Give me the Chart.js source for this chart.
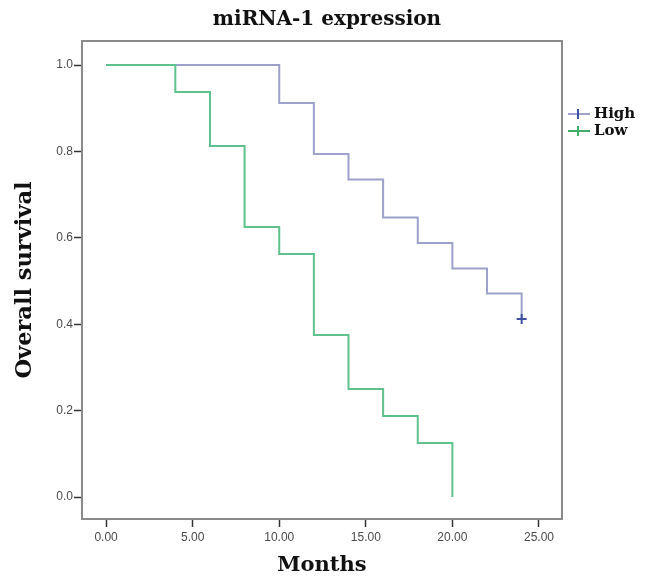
<!DOCTYPE html>
<html>
<head>
<meta charset="utf-8">
<script src="https://cdn.jsdelivr.net/npm/chart.js@4.4.1/dist/chart.umd.min.js"></script>
<style>
  html, body { margin: 0; padding: 0; background: #ffffff; }
  #wrap { width: 649px; height: 576px; position: relative; }
</style>
</head>
<body>
<div id="wrap"><canvas id="c" width="649" height="576"></canvas></div>
<script>
// ---- Data ----
const chartTitle = "miRNA-1 expression";
const xTitle = "Months";
const yTitle = "Overall survival";
const seriesNames = ["High", "Low"];
const highTimes    = [0, 10, 12, 14, 16, 18, 20, 22, 24];
const highSurvival = [1.0, 0.912, 0.794, 0.735, 0.647, 0.588, 0.529, 0.471, 0.412];
const lowTimes     = [0, 4, 6, 8, 10, 12, 14, 16, 18, 20];
const lowSurvival  = [1.0, 0.9375, 0.8125, 0.625, 0.5625, 0.375, 0.25, 0.1875, 0.125, 0.0];
const highCensorTimes = [24];
const highCensorSurvival = [0.412];
const xTickValues = [0, 5, 10, 15, 20, 25];
const yTickValues = [0, 0.2, 0.4, 0.6, 0.8, 1.0];

const toPts = (xs, ys) => xs.map((x, i) => ({ x: x, y: ys[i] }));

const HIGH_COLOR = "#9ea1cc";
const HIGH_MARK = "#3f51a3";
const LOW_COLOR = "#5fc28c";
const SERIF = "'DejaVu Serif', 'Liberation Serif', serif";
const SANS = "'Liberation Sans', Arial, sans-serif";

const framePlugin = {
  id: "frame",
  beforeDatasetsDraw(chart) {
    const { ctx, chartArea: a } = chart;
    ctx.save();
    ctx.strokeStyle = "#8a8a8a";
    ctx.lineWidth = 2;
    ctx.strokeRect(a.left, a.top, a.right - a.left, a.bottom - a.top);
    ctx.restore();
  }
};

const legendPlugin = {
  id: "kmLegend",
  afterDraw(chart) {
    const { ctx, chartArea: a } = chart;
    const items = [
      { label: seriesNames[0], line: HIGH_COLOR, mark: HIGH_MARK, y: 114 },
      { label: seriesNames[1], line: "#3fae68", mark: "#3fae68", y: 131 }
    ];
    ctx.save();
    items.forEach(it => {
      const x0 = a.right + 6;
      ctx.strokeStyle = it.line;
      ctx.lineWidth = 2;
      ctx.beginPath();
      ctx.moveTo(x0, it.y);
      ctx.lineTo(x0 + 22, it.y);
      ctx.stroke();
      ctx.strokeStyle = it.mark;
      ctx.beginPath();
      ctx.moveTo(x0 + 10, it.y - 5);
      ctx.lineTo(x0 + 10, it.y + 5);
      ctx.stroke();
      ctx.fillStyle = "#111";
      ctx.font = "bold 15px " + SERIF;
      ctx.textBaseline = "middle";
      ctx.textAlign = "left";
      ctx.fillText(it.label, x0 + 26, it.y);
    });
    ctx.restore();
  }
};

new Chart(document.getElementById("c"), {
  type: "line",
  data: {
    datasets: [
      {
        label: seriesNames[0],
        data: toPts(highTimes, highSurvival),
        stepped: "before",
        borderColor: HIGH_COLOR,
        borderWidth: 2,
        pointRadius: 0,
        fill: false,
        order: 1
      },
      {
        label: seriesNames[1],
        data: toPts(lowTimes, lowSurvival),
        stepped: "before",
        borderColor: LOW_COLOR,
        borderWidth: 2,
        pointRadius: 0,
        fill: false,
        order: 0
      },
      {
        label: seriesNames[0] + " censored",
        type: "scatter",
        data: toPts(highCensorTimes, highCensorSurvival),
        pointStyle: "cross",
        pointRadius: 5,
        pointBorderWidth: 2,
        borderColor: HIGH_MARK,
        backgroundColor: HIGH_MARK,
        showLine: false,
        order: -1
      }
    ]
  },
  options: {
    responsive: false,
    animation: false,
    layout: { padding: { left: 5, right: 0, top: 0, bottom: 0 } },
    plugins: {
      legend: { display: false },
      tooltip: { enabled: false },
      title: {
        display: true,
        text: chartTitle,
        color: "#111",
        font: { family: SERIF, size: 20, weight: "bold", lineHeight: 1.2 },
        padding: { top: 8, bottom: 9 }
      }
    },
    scales: {
      x: {
        type: "linear",
        min: -1.39,
        max: 26.33,
        afterBuildTicks(scale) { scale.ticks = xTickValues.map(v => ({ value: v })); },
        afterFit(scale) { scale.height = 57; },
        ticks: {
          color: "#4a4a4a",
          font: { family: SANS, size: 12 },
          padding: 3,
          maxRotation: 0,
          autoSkip: false,
          callback: v => Number(v).toFixed(2)
        },
        grid: { display: true, drawOnChartArea: false, drawTicks: true, tickLength: 8, tickColor: "#333", tickWidth: 1.5 },
        border: { display: false },
        title: {
          display: true,
          text: xTitle,
          color: "#111",
          font: { family: SERIF, size: 21, weight: "bold", lineHeight: 1 },
          padding: { top: 0, bottom: 0 }
        }
      },
      y: {
        type: "linear",
        min: -0.0509,
        max: 1.0556,
        afterBuildTicks(scale) { scale.ticks = yTickValues.map(v => ({ value: v })); },
        afterFit(scale) { scale.width = 77; },
        ticks: {
          color: "#4a4a4a",
          font: { family: SANS, size: 12 },
          padding: 1,
          autoSkip: false,
          callback: v => Number(v).toFixed(1)
        },
        grid: { display: true, drawOnChartArea: false, drawTicks: true, tickLength: 8, tickColor: "#333", tickWidth: 1.5 },
        border: { display: false },
        title: {
          display: true,
          text: yTitle,
          color: "#111",
          font: { family: SERIF, size: 22.5, weight: "bold", lineHeight: 1 },
          padding: { top: 9, bottom: 0 }
        }
      },
      yRight: {
        type: "linear",
        position: "right",
        display: true,
        afterFit(scale) { scale.width = 87; },
        ticks: { display: false },
        grid: { display: false, drawTicks: false },
        border: { display: false },
        title: { display: false }
      }
    }
  },
  plugins: [framePlugin, legendPlugin]
});
</script>
</body>
</html>
